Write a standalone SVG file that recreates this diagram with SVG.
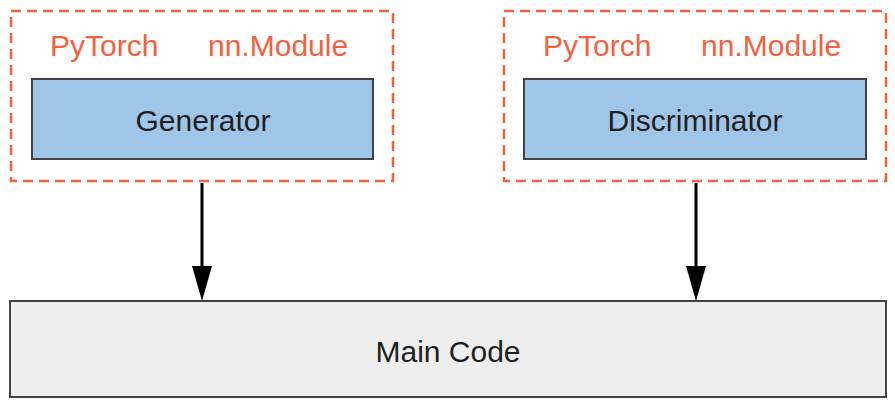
<svg xmlns="http://www.w3.org/2000/svg" width="895" height="409" viewBox="0 0 895 409">
<defs>
<style>
.frame{fill:none;stroke:#f4613f;stroke-width:2.5;stroke-dasharray:10 6}
.mod{fill:#9fc5e8;stroke:#434343;stroke-width:2}
.main{fill:#eeeeee;stroke:#434343;stroke-width:2}
.lbl{font-family:"Liberation Sans",Arial,sans-serif;font-size:30px;fill:#f4613f}
.txt{font-family:"Liberation Sans",Arial,sans-serif;font-size:30px;fill:#1f1f1f;text-anchor:middle}
.conn{stroke:#000;stroke-width:3;fill:none}
</style>
</defs>
<g id="gen">
<rect class="frame" x="11" y="11" width="382" height="170"/>
<text class="lbl" x="50" y="56">PyTorch</text>
<text class="lbl" x="208" y="56">nn.Module</text>
<rect class="mod" x="32" y="79" width="341" height="80"/>
<text class="txt" x="203" y="131">Generator</text>
</g>
<g id="disc">
<rect class="frame" x="504" y="11" width="382" height="170"/>
<text class="lbl" x="543" y="56">PyTorch</text>
<text class="lbl" x="701" y="56">nn.Module</text>
<rect class="mod" x="524" y="79" width="342" height="80"/>
<text class="txt" x="695" y="131">Discriminator</text>
</g>
<g id="main">
<rect class="main" x="10" y="301" width="876" height="96"/>
<text class="txt" x="448" y="362">Main Code</text>
</g>
<g id="connectors">
<path class="conn" d="M202,183 V268" />
<path d="M192,266 L212,266 L202,301 Z" fill="#000"/>
<path class="conn" d="M696,183 V268" />
<path d="M686,266 L706,266 L696,301 Z" fill="#000"/>
</g>
</svg>
